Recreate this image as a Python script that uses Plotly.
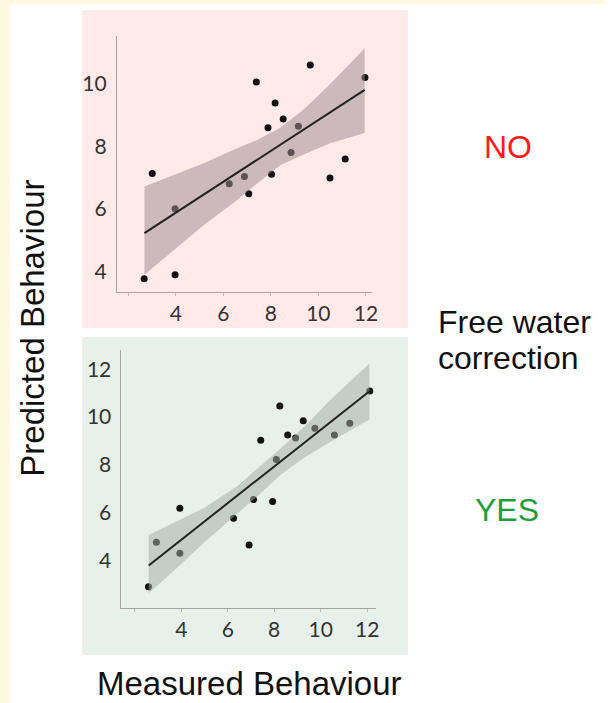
import plotly.graph_objects as go

# ---------------- data ----------------
top_x = [2.67, 3.01, 3.97, 3.97, 6.25, 6.89, 7.07, 7.39, 7.88, 8.03, 8.18, 8.52, 8.85, 9.16, 9.66, 10.49, 11.13, 11.96]
top_y = [3.77, 7.14, 6.01, 3.90, 6.81, 7.04, 6.49, 10.06, 8.60, 7.11, 9.39, 8.88, 7.81, 8.65, 10.60, 6.99, 7.60, 10.20]
top_fit_x = [2.68, 11.95]
top_fit_y = [5.23, 9.81]
top_band_x = [2.68, 3.8, 5.2, 6.6, 7.4, 8.4, 9.4, 10.5, 11.95]
top_band_hi = [6.72, 7.06, 7.47, 7.95, 8.20, 8.60, 9.20, 10.00, 11.14]
top_band_lo = [3.90, 4.60, 5.50, 6.30, 6.80, 7.40, 7.75, 8.10, 8.43]

bot_x = [2.59, 2.93, 3.94, 3.94, 6.25, 6.92, 7.11, 7.42, 7.93, 8.09, 8.24, 8.58, 8.92, 9.25, 9.75, 10.59, 11.25, 12.11]
bot_y = [2.89, 4.75, 6.18, 4.29, 5.76, 4.64, 6.54, 9.03, 6.46, 8.22, 10.46, 9.25, 9.12, 9.85, 9.53, 9.25, 9.74, 11.09]
bot_fit_x = [2.60, 12.10]
bot_fit_y = [3.78, 11.08]
bot_band_x = [2.6, 3.9, 5.0, 6.4, 7.3, 8.3, 9.3, 10.4, 12.1]
bot_band_hi = [5.06, 5.69, 6.20, 7.10, 7.85, 8.70, 9.60, 10.70, 12.25]
bot_band_lo = [2.62, 3.75, 4.75, 5.95, 6.70, 7.60, 8.30, 8.95, 9.90]

x_tickvals = [2, 4, 6, 8, 10, 12]
x_ticktext = ["", "4", "6", "8", "10", "12"]
top_y_ticks = [4, 6, 8, 10]
bot_y_ticks = [4, 6, 8, 10, 12]

W, H = 611, 703


def px(x):
    return x / W


def py(y):
    return 1 - y / H


fig = go.Figure()


def add_panel(xs, ys, fx, fy, bx, bhi, blo, band_color, xa, ya):
    fig.add_trace(go.Scatter(x=xs, y=ys, mode="markers", xaxis=xa, yaxis=ya,
                             marker=dict(size=7, color="#111111"), showlegend=False,
                             hoverinfo="skip"))
    fig.add_trace(go.Scatter(x=bx + bx[::-1], y=bhi + blo[::-1], mode="lines",
                             fill="toself", fillcolor=band_color, line=dict(width=0),
                             xaxis=xa, yaxis=ya, showlegend=False, hoverinfo="skip"))
    fig.add_trace(go.Scatter(x=fx, y=fy, mode="lines", xaxis=xa, yaxis=ya,
                             line=dict(color="#222222", width=2), showlegend=False,
                             hoverinfo="skip"))


add_panel(top_x, top_y, top_fit_x, top_fit_y, top_band_x, top_band_hi, top_band_lo,
          "rgba(160,142,147,0.53)", "x", "y")
add_panel(bot_x, bot_y, bot_fit_x, bot_fit_y, bot_band_x, bot_band_hi, bot_band_lo,
          "rgba(163,172,167,0.52)", "x2", "y2")

tick_font = dict(family="Lato, Open Sans, sans-serif", size=21, color="#333333")
axis_common = dict(showgrid=False, zeroline=False, showline=True, linecolor="#a8a2a2",
                   linewidth=1, tickfont=tick_font, fixedrange=True)

fig.update_layout(
    width=W, height=H, margin=dict(l=0, r=0, t=0, b=0),
    paper_bgcolor="white", plot_bgcolor="rgba(0,0,0,0)",
    xaxis=dict(domain=[px(118), px(376)], range=[1.52, 12.27], anchor="y",
               tickvals=x_tickvals, ticktext=x_ticktext, ticks="outside", ticklen=3,
               tickcolor="#c8b8b8", **axis_common),
    yaxis=dict(domain=[py(292), py(36)], range=[3.35, 11.53], anchor="x",
               tickvals=top_y_ticks, ticks="", ticklabelstandoff=5, **axis_common),
    xaxis2=dict(domain=[px(122.7), px(380)], range=[1.43, 12.39], anchor="y2",
                tickvals=x_tickvals, ticktext=x_ticktext, ticks="outside", ticklen=3,
                tickcolor="#b8c0bc", **axis_common),
    yaxis2=dict(domain=[py(607.7), py(350)], range=[2.01, 12.81], anchor="x2",
                tickvals=bot_y_ticks, ticks="", ticklabelstandoff=5, **axis_common),
)

shapes = [
    # yellow frame
    dict(type="rect", xref="paper", yref="paper", x0=0, x1=px(10), y0=0, y1=1,
         fillcolor="#FFF8E1", line=dict(width=0), layer="below"),
    dict(type="rect", xref="paper", yref="paper", x0=0, x1=1, y0=py(4), y1=1,
         fillcolor="#FFF8E1", line=dict(width=0), layer="below"),
    # panels
    dict(type="rect", xref="paper", yref="paper", x0=px(83), x1=px(412), y0=py(328), y1=py(10),
         fillcolor="#FFE9E9", line=dict(width=0), layer="below"),
    dict(type="rect", xref="paper", yref="paper", x0=px(83), x1=px(412), y0=py(655), y1=py(337),
         fillcolor="#E8F0EB", line=dict(width=0), layer="below"),
]
fig.update_layout(shapes=shapes)

label_font = "Liberation Sans, Arial, sans-serif"
ann = [
    dict(text="NO", x=px(513), y=py(147), font=dict(family=label_font, size=32, color="#FF1A1A"),
         xanchor="center", yanchor="middle"),
    dict(text="YES", x=px(512), y=py(510), font=dict(family=label_font, size=32, color="#1E9E3A"),
         xanchor="center", yanchor="middle"),
    dict(text="Free water", x=px(440), y=py(322), font=dict(family=label_font, size=32, color="#111111"),
         xanchor="left", yanchor="middle"),
    dict(text="correction", x=px(440), y=py(358), font=dict(family=label_font, size=32, color="#111111"),
         xanchor="left", yanchor="middle"),
    dict(text="Measured Behaviour", x=px(252), y=0, font=dict(family=label_font, size=33, color="#111111"),
         xanchor="center", yanchor="bottom", borderpad=0),
    dict(text="Predicted Behaviour", x=px(33), y=py(328), textangle=-90,
         font=dict(family=label_font, size=33, color="#111111"),
         xanchor="center", yanchor="middle"),
]
for a in ann:
    a.update(xref="paper", yref="paper", showarrow=False)
fig.update_layout(annotations=ann)

fig.write_html("out.html", config={"displayModeBar": False})
